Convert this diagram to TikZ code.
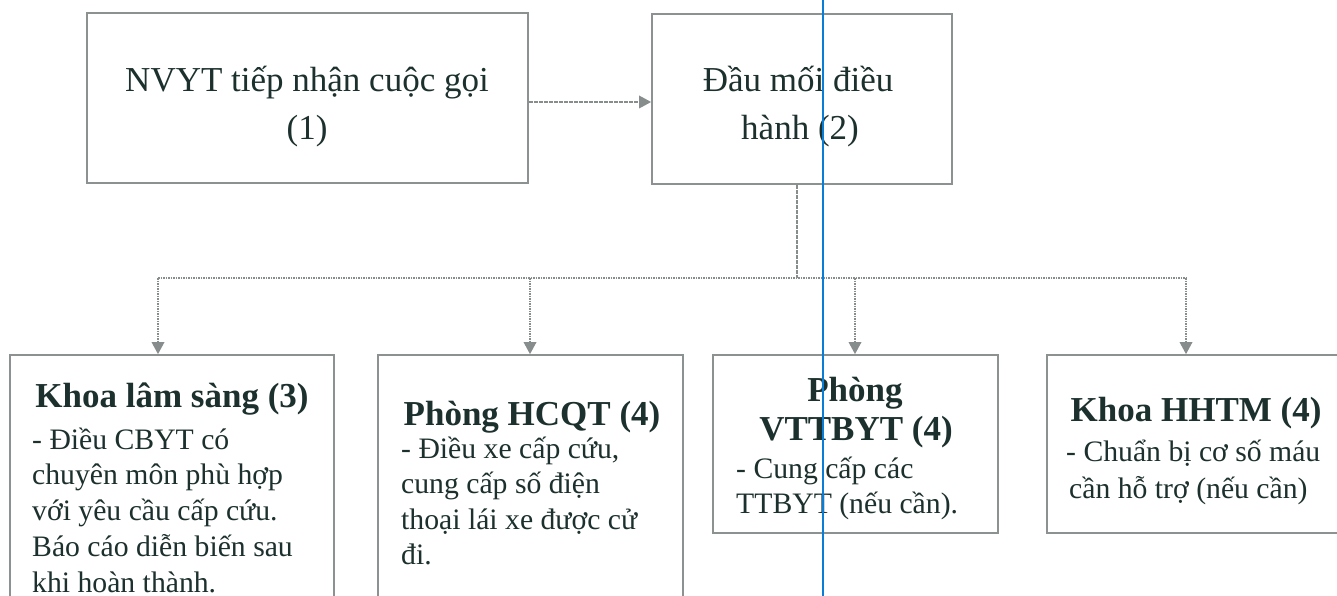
\documentclass[tikz,border=0pt]{standalone}
\usepackage{fontspec}
\setmainfont{Liberation Serif}
\usetikzlibrary{arrows.meta}
\definecolor{ink}{RGB}{28,48,45}
\definecolor{frame}{RGB}{140,146,146}
\definecolor{link}{RGB}{135,140,140}
\definecolor{marker}{RGB}{10,125,215}
\tikzset{
  box/.style={draw=frame, line width=1.8pt, inner sep=0pt, fill=white},
  conn/.style={draw=link, line width=1.3pt, dash pattern=on 1.6pt off 0.9pt},
  arr/.style={conn, -{Triangle[length=12pt,width=13pt,fill=link,line width=0pt]}},
  big/.style={font=\fontsize{35}{44}\selectfont, text=ink, inner sep=0pt, anchor=base},
  head/.style={font=\bfseries\fontsize{35}{40}\selectfont, text=ink, inner sep=0pt, anchor=base},
  body/.style={font=\fontsize{29.7}{35}\selectfont, text=ink, inner sep=0pt, anchor=base west},
}
\begin{document}
\begin{tikzpicture}[x=1pt,y=-1pt]
\useasboundingbox (0,0) rectangle (1337,596);
\clip (0,0) rectangle (1337,596);
\fill[white] (0,0) rectangle (1337,596);

% boxes
\node[box, minimum width=441pt, minimum height=170pt] (b1) at (307.5,98) {};
\node[box, minimum width=300pt, minimum height=170pt] (b2) at (802,99) {};
\node[box, minimum width=324pt, minimum height=295pt] (b3) at (172,502.5) {};
\node[box, minimum width=305pt, minimum height=295pt] (b4) at (530.5,502.5) {};
\node[box, minimum width=285pt, minimum height=178pt] (b5) at (855.5,444) {};
\node[box, minimum width=353pt, minimum height=178pt] (b6) at (1223.5,444) {};

% connectors
\coordinate (j) at (797,278);
\coordinate (a3) at (158,278);
\coordinate (a4) at (530,278);
\coordinate (a5) at (855,278);
\coordinate (a6) at (1186,278);
\draw[arr] ([yshift=-4pt]b1.east) -- ([yshift=-4pt]b1.east -| b2.west);
\draw[conn] (b2.south -| j) -- (j);
\draw[conn] (a3) -- (a6);
\draw[arr] (a3) -- (a3 |- b3.north);
\draw[arr] (a4) -- (a4 |- b4.north);
\draw[arr] (a5) -- (a5 |- b5.north);
\draw[arr] (a6) -- (a6 |- b6.north);

% texts box 1 and 2
\node[big] (t1a) at (307,92) {NVYT tiếp nhận cuộc gọi};
\node[big] (t1b) at (307,140) {(1)};
\node[big] (t2a) at (798,92) {Đầu mối điều};
\node[big] (t2b) at (800,140) {hành (2)};

% box 3
\node[head] (t3h) at (172,407) {Khoa lâm sàng (3)};
\node[body] (t3a) at (32,449) {- Điều CBYT có};
\node[body] (t3b) at (32,484.75) {chuyên môn phù hợp};
\node[body] (t3c) at (32,520.5) {với yêu cầu cấp cứu.};
\node[body] (t3d) at (32,556.25) {Báo cáo diễn biến sau};
\node[body] (t3e) at (32,592) {khi hoàn thành.};

% box 4
\node[head] (t4h) at (532,425) {Phòng HCQT (4)};
\node[body] (t4a) at (401,458) {- Điều xe cấp cứu,};
\node[body] (t4b) at (401,493.5) {cung cấp số điện};
\node[body] (t4c) at (401,529.5) {thoại lái xe được cử};
\node[body] (t4d) at (401,564) {đi.};

% box 5
\node[head] (t5h) at (855,401) {Phòng};
\node[head] (t5i) at (856,440) {VTTBYT (4)};
\node[body] (t5a) at (736,478) {- Cung cấp các};
\node[body] (t5b) at (736,513) {TTBYT (nếu cần).};

% box 6
\node[head] (t6h) at (1196,421) {Khoa HHTM (4)};
\node[body] (t6a) at (1066,461) {- Chuẩn bị cơ số máu};
\node[body] (t6b) at (1069,498) {cần hỗ trợ (nếu cần)};

% blue guide line
\coordinate (m1) at (823,0);
\coordinate (m2) at (823,596);
\draw[marker, line width=2.2pt] (m1) -- (m2);
\end{tikzpicture}
\end{document}
